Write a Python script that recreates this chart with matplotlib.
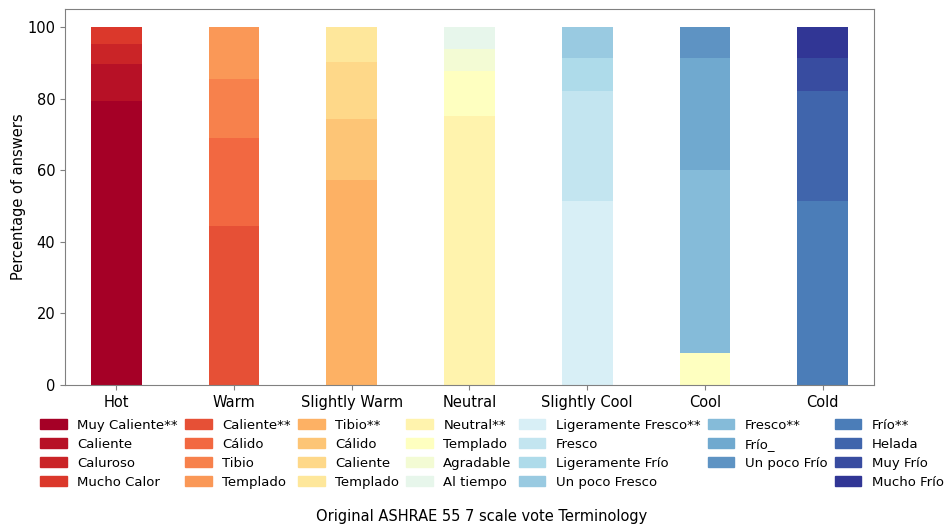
import matplotlib.pyplot as plt
import matplotlib.patches as mpatches
import numpy as np

# Thermal sensation categories (ASHRAE 55, 7-point scale)
categories = ['Hot', 'Warm', 'Slightly Warm', 'Neutral', 'Slightly Cool', 'Cool', 'Cold']

# Spanish terms per category (bottom to top) and share of answers (%)
hot_terms = ['Muy Caliente**', 'Caliente', 'Caluroso', 'Mucho Calor']
hot_vals = [79.2, 10.5, 5.6, 4.7]
warm_terms = ['Caliente**', 'Cálido', 'Tibio', 'Templado']
warm_vals = [44.4, 24.5, 16.6, 14.5]
swarm_terms = ['Tibio**', 'Cálido', 'Caliente', 'Templado']
swarm_vals = [57.3, 17.1, 15.9, 9.7]
neutral_terms = ['Neutral**', 'Templado', 'Agradable', 'Al tiempo']
neutral_vals = [75.0, 12.8, 6.1, 6.1]
scool_terms = ['Ligeramente Fresco**', 'Fresco', 'Ligeramente Frío', 'Un poco Fresco']
scool_vals = [51.4, 30.7, 9.1, 8.8]
cool_terms = ['Fresco**', 'Frío_', 'Un poco Frío']
cool_vals = [51.1, 31.1, 8.8]
cold_terms = ['Frío**', 'Helada', 'Muy Frío', 'Mucho Frío']
cold_vals = [51.4, 30.7, 9.1, 8.8]

# "Templado" answers that ended up under Cool (same colour as Neutral/Templado)
cool_templado = 9.0

groups = [(hot_terms, hot_vals), (warm_terms, warm_vals), (swarm_terms, swarm_vals),
          (neutral_terms, neutral_vals), (scool_terms, scool_vals),
          (cool_terms, cool_vals), (cold_terms, cold_vals)]

n_terms = sum(len(t) for t, _ in groups)
colors = plt.cm.RdYlBu(np.linspace(0, 1, n_terms))
templado_color = colors[len(hot_terms) + len(warm_terms) + len(swarm_terms) + 1]

fig = plt.figure(figsize=(9.48, 5.27), dpi=100)
ax = fig.add_axes([0.0686, 0.2694, 0.8534, 0.7135])

x = np.arange(len(categories))
width = 0.43
handles = []
labels = []
ci = 0
for i, (terms, vals) in enumerate(groups):
    bottom = 0
    if categories[i] == 'Cool':
        ax.bar(x[i], cool_templado, width, bottom=bottom, color=templado_color)
        bottom += cool_templado
    for term, v in zip(terms, vals):
        ax.bar(x[i], v, width, bottom=bottom, color=colors[ci])
        handles.append(mpatches.Patch(color=colors[ci]))
        labels.append(term)
        bottom += v
        ci += 1
    # pad each legend column to 4 rows
    for _ in range(4 - len(terms)):
        handles.append(mpatches.Patch(visible=False))
        labels.append('')

ax.set_xticks(x)
ax.set_xticklabels(categories, fontsize=10.5)
ax.set_xlim(-0.436, 6.437)
ax.set_ylim(0, 105)
ax.set_yticks([0, 20, 40, 60, 80, 100])
ax.tick_params(axis='y', labelsize=10.5, color='#808080')
ax.tick_params(axis='x', color='#808080')
ax.set_ylabel('Percentage of answers', fontsize=10.5, labelpad=1)
for s in ax.spines.values():
    s.set_color('#808080')

fig.legend(handles, labels, ncol=7, loc='upper center', bbox_to_anchor=(0.519, 0.228),
           frameon=False, fontsize=9.5, handlelength=2.0, handletextpad=0.8,
           columnspacing=0.55, labelspacing=0.45)

fig.text(0.508, 0.006, 'Original ASHRAE 55 7 scale vote Terminology', ha='center',
         va='bottom', fontsize=10.5)

plt.savefig('out.png', dpi=100)
